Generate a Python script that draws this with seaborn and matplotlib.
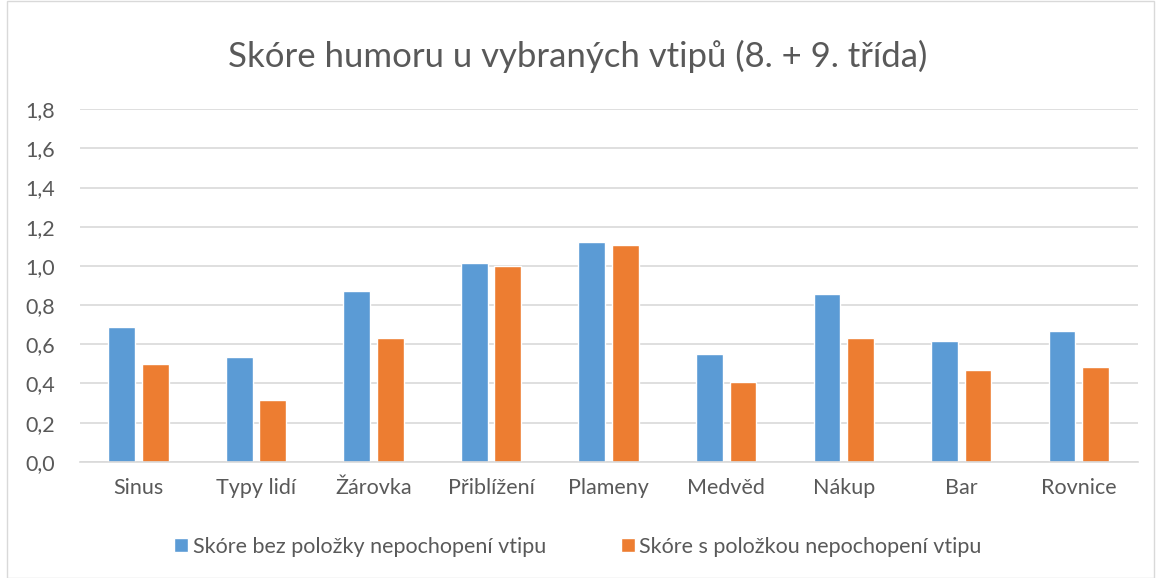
import numpy as np
import pandas as pd
import seaborn as sns
import matplotlib.pyplot as plt
from matplotlib.patches import Rectangle
from matplotlib.ticker import FuncFormatter

categories = ["Sinus", "Typy lidí", "Žárovka", "Přiblížení", "Plameny",
              "Medvěd", "Nákup", "Bar", "Rovnice"]
series_names = ["Skóre bez položky nepochopení vtipu",
                "Skóre s položkou nepochopení vtipu"]
bez_polozky = [0.686, 0.535, 0.872, 1.013, 1.120, 0.549, 0.856, 0.618, 0.666]
s_polozkou = [0.499, 0.316, 0.634, 0.999, 1.105, 0.408, 0.634, 0.468, 0.483]
title = "Skóre humoru u vybraných vtipů (8. + 9. třída)"

df = pd.DataFrame({
    "vtip": categories * 2,
    "serie": [series_names[0]] * len(categories) + [series_names[1]] * len(categories),
    "skore": bez_polozky + s_polozkou,
})

sns.set_style("white")
plt.rcParams['font.family'] = ['Lato', 'DejaVu Sans']
text_col = "#595959"

fig = plt.figure(figsize=(11.56, 5.78), dpi=100)
ax = fig.add_axes([0.069, 0.201, 0.915, 0.610])

sns.barplot(data=df, x="vtip", y="skore", hue="serie",
            palette=["#5B9BD5", "#ED7D31"], width=0.57, gap=0.2,
            ax=ax, legend=True, saturation=1)

ax.set_ylim(0, 1.8)
ax.set_yticks(np.arange(0, 1.81, 0.2))
ax.yaxis.set_major_formatter(FuncFormatter(lambda v, p: f"{v:.1f}".replace(".", ",")))
ax.set_xlim(-0.5, len(categories) - 0.5)
ax.grid(axis="y", color="#D9D9D9", lw=1.2)
ax.set_axisbelow(True)
for s in ["left", "right", "top"]:
    ax.spines[s].set_visible(False)
ax.spines["bottom"].set_color("#D9D9D9")
ax.spines["bottom"].set_linewidth(1.2)
ax.tick_params(axis="both", length=0, labelsize=15.5, labelcolor=text_col)
ax.tick_params(axis="x", pad=12)
ax.tick_params(axis="y", pad=18)
ax.set_xlabel("")
ax.set_ylabel("")

handles, labels = ax.get_legend_handles_labels()
ax.get_legend().remove()
fig.legend(handles, labels, loc="center", bbox_to_anchor=(0.5, 0.054), ncol=2,
           frameon=False, fontsize=15.5, labelcolor=text_col, handlelength=0.65,
           handleheight=0.65, handletextpad=0.2, columnspacing=3.5)

fig.text(0.5, 0.903, title, ha="center", va="center", fontsize=25, color=text_col)

fig.patches.append(Rectangle((0.006, 0.0), 0.992, 0.998, transform=fig.transFigure,
                             fill=False, edgecolor="#D9D9D9", lw=1))

fig.savefig("out.png", dpi=100)
